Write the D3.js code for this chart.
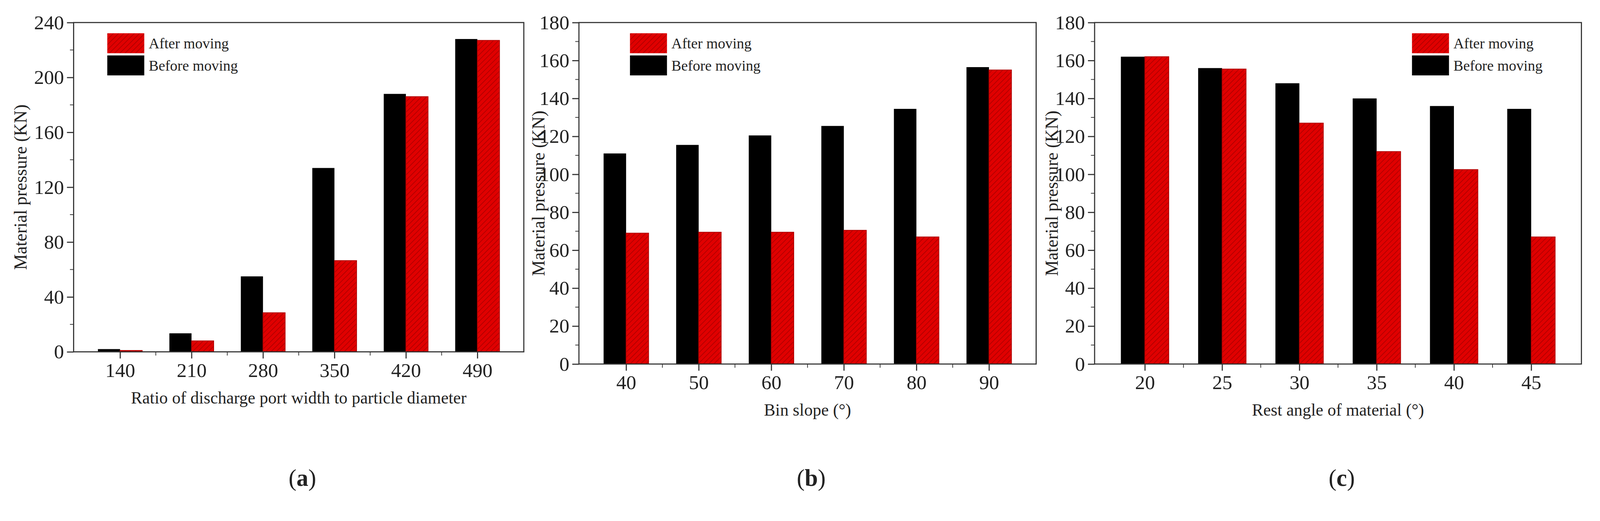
<!DOCTYPE html>
<meta charset="utf-8">
<style>
  body { margin: 0; background: #fff; }
  text { font-family: "Liberation Serif", "DejaVu Serif", serif; fill: #222; }
</style>
<script src="https://cdn.jsdelivr.net/npm/d3@7"></script>
<body>
<svg id="chart" width="4328" height="1335"></svg>
<script>
// data
const catsA = ["140", "210", "280", "350", "420", "490"];
const beforeA = [2, 13.5, 55, 134, 188, 228];
const afterA = [1, 8, 28.5, 66.5, 186, 227];

const catsB = ["40", "50", "60", "70", "80", "90"];
const beforeB = [111, 115.5, 120.5, 125.5, 134.5, 156.5];
const afterB = [69, 69.5, 69.5, 70.5, 67, 155];

const catsC = ["20", "25", "30", "35", "40", "45"];
const beforeC = [162, 156, 148, 140, 136, 134.5];
const afterC = [162, 155.5, 127, 112, 102.5, 67];

const svg = d3.select("#chart");
const root = svg.append("g").attr("transform", "scale(0.947)");

// hatched red fill
const defs = svg.append("defs");
const pat = defs.append("pattern")
  .attr("id", "hatch").attr("patternUnits", "userSpaceOnUse")
  .attr("width", 10).attr("height", 10)
  .attr("patternTransform", "rotate(45)");
pat.append("rect").attr("width", 10).attr("height", 10).attr("fill", "#e00000");
pat.append("line").attr("x1", 0).attr("y1", 0).attr("x2", 0).attr("y2", 10)
  .attr("stroke", "#a40000").attr("stroke-width", 3);

const panels = [
  { cats: catsA, before: beforeA, after: afterA, max: 240, step: 40,
    left: 199, right: 1416, top: 61, bottom: 952,
    xTitle: "Ratio of discharge port width to particle diameter", yTitleX: 55,
    legX: 290, letter: "a" },
  { cats: catsB, before: beforeB, after: afterB, max: 180, step: 20,
    left: 1565, right: 2801, top: 61, bottom: 985,
    xTitle: "Bin slope (°)", yTitleX: 1455, legX: 1703, letter: "b" },
  { cats: catsC, before: beforeC, after: afterC, max: 180, step: 20,
    left: 2959, right: 4275, top: 61, bottom: 985,
    xTitle: "Rest angle of material (°)", yTitleX: 2843, legX: 3817, letter: "c" }
];

panels.forEach(p => {
  const g = root.append("g");
  const x = d3.scalePoint().domain(p.cats).range([p.left, p.right]).padding(0.65);
  const y = d3.scaleLinear().domain([0, p.max]).range([p.bottom, p.top]);
  const bw = x.step() * 0.31;

  // bars
  g.selectAll(".b").data(p.cats).join("rect")
    .attr("x", d => x(d) - bw).attr("width", bw)
    .attr("y", (d, i) => y(p.before[i])).attr("height", (d, i) => p.bottom - y(p.before[i]))
    .attr("fill", "#000");
  g.selectAll(".a").data(p.cats).join("rect")
    .attr("x", d => x(d)).attr("width", bw)
    .attr("y", (d, i) => y(p.after[i])).attr("height", (d, i) => p.bottom - y(p.after[i]))
    .attr("fill", "url(#hatch)").attr("stroke", "#b00000").attr("stroke-width", 2);

  // frame
  g.append("rect").attr("x", p.left).attr("y", p.top)
    .attr("width", p.right - p.left).attr("height", p.bottom - p.top)
    .attr("fill", "none").attr("stroke", "#333").attr("stroke-width", 3);

  // y axis
  const ya = g.append("g").attr("transform", `translate(${p.left},0)`)
    .call(d3.axisLeft(y).tickValues(d3.range(0, p.max + 1, p.step)).tickSize(18).tickPadding(8));
  ya.select(".domain").remove();
  ya.selectAll("line").attr("stroke", "#333").attr("stroke-width", 3);
  ya.selectAll("text").style("font-size", "54px").attr("fill", "#222");
  g.selectAll(".ym").data(d3.range(p.step / 2, p.max, p.step)).join("line")
    .attr("x1", p.left - 10).attr("x2", p.left)
    .attr("y1", d => y(d)).attr("y2", d => y(d))
    .attr("stroke", "#333").attr("stroke-width", 2);

  // x axis
  const xa = g.append("g").attr("transform", `translate(0,${p.bottom})`)
    .call(d3.axisBottom(x).tickSize(18).tickPadding(12));
  xa.select(".domain").remove();
  xa.selectAll("line").attr("stroke", "#333").attr("stroke-width", 3);
  xa.selectAll("text").style("font-size", "54px").attr("fill", "#222");
  g.selectAll(".xm").data(p.cats.slice(1)).join("line")
    .attr("x1", d => x(d) - x.step() / 2).attr("x2", d => x(d) - x.step() / 2)
    .attr("y1", p.bottom).attr("y2", p.bottom + 10)
    .attr("stroke", "#333").attr("stroke-width", 2);

  // titles
  g.append("text").attr("x", (p.left + p.right) / 2).attr("y", p.bottom + 140)
    .attr("text-anchor", "middle").style("font-size", "46px").text(p.xTitle);
  g.append("text")
    .attr("transform", `translate(${p.yTitleX},${(p.top + p.bottom) / 2}) rotate(-90)`)
    .attr("text-anchor", "middle").attr("dy", "0.35em")
    .style("font-size", "48px").text("Material pressure (KN)");

  // legend
  const leg = [["After moving", "url(#hatch)"], ["Before moving", "#000"]];
  leg.forEach((l, i) => {
    g.append("rect").attr("x", p.legX).attr("y", 90 + i * 60)
      .attr("width", 100).attr("height", 54).attr("fill", l[1]);
    g.append("text").attr("x", p.legX + 112).attr("y", 117 + i * 60).attr("dy", "0.35em")
      .style("font-size", "40px").text(l[0]);
  });

  // panel letter
  const lt = g.append("text").attr("x", (p.left + p.right) / 2 + 10).attr("y", 1315)
    .attr("text-anchor", "middle").style("font-size", "64px");
  lt.append("tspan").text("(");
  lt.append("tspan").style("font-weight", "bold").text(p.letter);
  lt.append("tspan").text(")");
});
</script>
</body>
